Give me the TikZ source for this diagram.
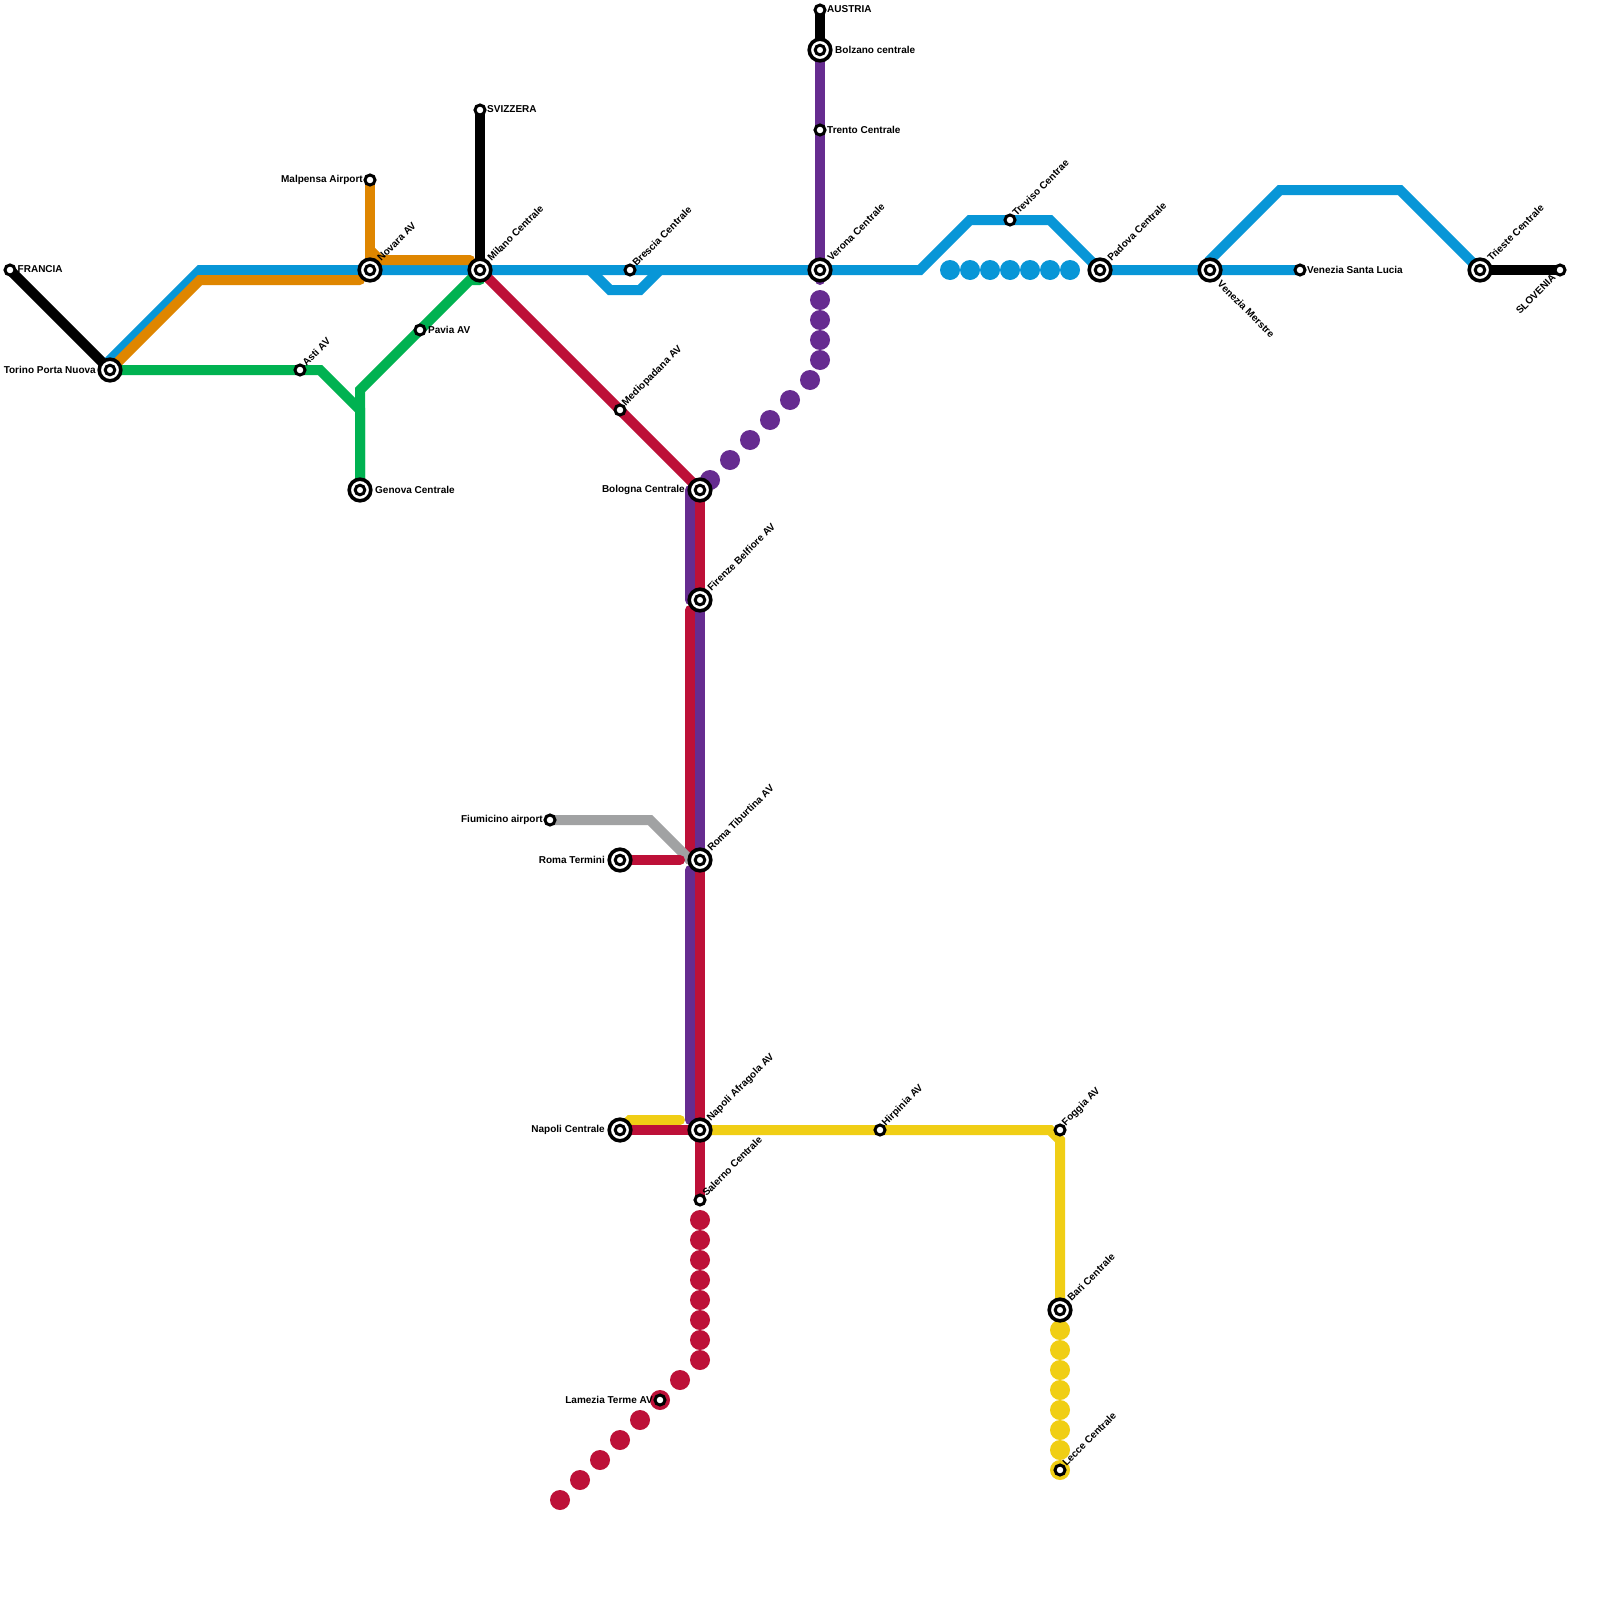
\documentclass[tikz,border=0pt]{standalone}
\usepackage{fontspec}
\setmainfont{Liberation Sans}
\pgfdeclarelayer{lines}
\pgfsetlayers{lines,main}
\definecolor{cblue}{HTML}{0896D7}
\definecolor{cred}{HTML}{BD1038}
\definecolor{cpurple}{HTML}{662C90}
\definecolor{cgreen}{HTML}{00B251}
\definecolor{corange}{HTML}{DF8600}
\definecolor{cyellow}{HTML}{F0CE15}
\definecolor{cgrey}{HTML}{A1A2A3}
\tikzset{
  x=1pt,y=-1pt,
  railline/.style={line width=10pt,line cap=butt,line join=miter},
  roundline/.style={line width=10pt,line cap=round,line join=miter},
  ministop/.style={circle,draw=black,fill=white,line width=3pt,minimum size=10pt,inner sep=0pt,outer sep=0pt},
  hubstop/.style={circle,draw=black,fill=white,line width=3.6pt,minimum size=21.6pt,inner sep=0pt,outer sep=0pt,
    path picture={\draw[black,fill=white,line width=3pt] (path picture bounding box.center) circle (4.8);}},
  beadstop/.style={circle,inner sep=0pt,outer sep=0pt,minimum size=20pt},
  txt/.style={font=\bfseries\fontsize{10pt}{11pt}\selectfont,inner sep=0pt,text=black},
  tr/.style={txt,anchor=west},
  tl/.style={txt,anchor=east},
  tup/.style={txt,anchor=west,rotate=45,xshift=1pt,yshift=1.2pt},
  tdn/.style={txt,anchor=west,rotate=-45,xshift=2.5pt,yshift=-2pt},
  tupend/.style={txt,anchor=east,rotate=45},
}
\begin{document}
\begin{tikzpicture}
\useasboundingbox (0,0) rectangle (1600,1600);

% beads
\foreach \n/\x in {1/950,2/970,3/990,4/1010,5/1030,6/1050,7/1070}
  \node[beadstop,fill=cblue] (bb\n) at (\x,270) {};
\foreach \n/\x/\y in {1/820/300,2/820/320,3/820/340,4/820/360,5/810/380,6/790/400,7/770/420,8/750/440,9/730/460,10/710/480}
  \node[beadstop,fill=cpurple] (pb\n) at (\x,\y) {};
\foreach \n/\x/\y in {1/700/1220,2/700/1240,3/700/1260,4/700/1280,5/700/1300,6/700/1320,7/700/1340,8/700/1360,9/680/1380,10/660/1400,11/640/1420,12/620/1440,13/600/1460,14/580/1480,15/560/1500}
  \node[beadstop,fill=cred] (rb\n) at (\x,\y) {};
\foreach \n/\y in {1/1330,2/1350,3/1370,4/1390,5/1410,6/1430,7/1450,8/1470}
  \node[beadstop,fill=cyellow] (yb\n) at (1060,\y) {};

% stations
\foreach \id/\x/\y in {torino/110/370,novara/370/270,milano/480/270,genova/360/490,verona/820/270,bolzano/820/50,padova/1100/270,mestre/1210/270,trieste/1480/270,bologna/700/490,firenze/700/600,tiburtina/700/860,termini/620/860,afragola/700/1130,napoli/620/1130,bari/1060/1310}
  \node[hubstop] (\id) at (\x,\y) {};
\foreach \id/\x/\y in {francia/10/270,malpensa/370/180,asti/300/370,pavia/420/330,svizzera/480/110,brescia/630/270,mediopadana/620/410,austria/820/10,trento/820/130,treviso/1010/220,santalucia/1300/270,slovenia/1560/270,fiumicino/550/820,salerno/700/1200,lamezia/660/1400,hirpinia/880/1130,foggia/1060/1130,lecce/1060/1470}
  \node[ministop] (\id) at (\x,\y) {};

% lines
\begin{pgfonlayer}{lines}
\fill[white] (0,0) rectangle (1600,1600);
\draw[railline,black] (francia.center) -- (torino.center);
\draw[railline,black] (svizzera.center) -- (milano.center);
\draw[railline,black] (austria.center) -- (bolzano.center);
\draw[railline,black] (trieste.center) -- (slovenia.center);
% blue
\draw[railline,cblue] (torino.center) -- (110,360) -- (200,270) -- (novara.center) -- (milano.center) -- (brescia.center) -- (verona.center) -- (920,270) -- (970,220) -- (treviso.center) -- (1050,220) -- (padova.center) -- (mestre.center) -- (santalucia.center);
\draw[railline,cblue] (590,270) -- (610,290) -- (640,290) -- (660,270);
\draw[railline,cblue] (mestre.center) -- (1210,260) -- (1280,190) -- (1400,190) -- (trieste.center);
% orange
\draw[roundline,corange] (torino.center) -- (200,280) -- (360,280);
\draw[railline,corange] (malpensa.center) -- (novara.center);
\draw[roundline,corange] (370,250) -- (380,260) -- (470,260);
% green
\draw[railline,cgreen] (torino.center) -- (asti.center) -- (320,370) -- (360,410) -- (genova.center);
\draw[roundline,cgreen] (genova.center) -- (360,390) -- (pavia.center) -- (470,280) -- (480,280);
% red and purple
\draw[railline,cred] (milano.center) -- (mediopadana.center) -- (bologna.center);
\draw[railline,cpurple] (bolzano.center) -- (verona.center);
\draw[roundline,cpurple] (verona.center) -- (820,280);
\draw[roundline,cpurple] (690,490) -- (690,600);
\draw[railline,cred] (bologna.center) -- (firenze.center);
\draw[railline,cpurple] (firenze.center) -- (tiburtina.center);
\draw[roundline,cred] (690,610) -- (690,860);
\draw[roundline,cpurple] (690,870) -- (690,1120);
\draw[railline,cred] (tiburtina.center) -- (afragola.center) -- (salerno.center);
\draw[roundline,cgrey] (fiumicino.center) -- (650,820) -- (690,860);
\draw[roundline,cred] (termini.center) -- (680,860);
% yellow
\draw[roundline,cyellow] (napoli.center) -- (630,1120) -- (680,1120);
\draw[railline,cyellow] (afragola.center) -- (hirpinia.center) -- (1050,1130) -- (1060,1140) -- (bari.center);
\draw[railline,cred] (napoli.center) -- (afragola.center);
\end{pgfonlayer}

% labels
\node[tr] (lfrancia) at (17.5,269.5) {FRANCIA};
\node[tl] (lmalpensa) at (363,179.5) {Malpensa Airport};
\node[tl] (ltorino) at (96,369.5) {Torino Porta Nuova};
\node[tr] (lgenova) at (375,489.5) {Genova Centrale};
\node[tr] (lpavia) at (428,329.5) {Pavia AV};
\node[tr] (lsvizzera) at (487,109.5) {SVIZZERA};
\node[tr] (laustria) at (827,9.5) {AUSTRIA};
\node[tr] (lbolzano) at (835,49.5) {Bolzano centrale};
\node[tr] (ltrento) at (827,129.5) {Trento Centrale};
\node[tr] (lsanta) at (1307,269.5) {Venezia Santa Lucia};
\node[tl] (lbologna) at (685,489.5) {Bologna Centrale};
\node[tl] (lfiumicino) at (543,819.5) {Fiumicino airport};
\node[tl] (ltermini) at (605,859.5) {Roma Termini};
\node[tl] (lnapoli) at (605,1129.5) {Napoli Centrale};
\node[tl] (llamezia) at (653,1399.5) {Lamezia Terme AV};
\node[tup] (lnovara) at (379,261) {Novara AV};
\node[tup] (lmilano) at (489,261) {Milano Centrale};
\node[tup] (lasti) at (304,366) {Asti AV};
\node[tup] (lbrescia) at (634,266) {Brescia Centrale};
\node[tup] (lverona) at (829,261) {Verona Centrale};
\node[tup] (ltreviso) at (1014,216) {Treviso Centrae};
\node[tup] (lpadova) at (1109,261) {Padova Centrale};
\node[tdn] (lmestre) at (1219,279) {Venezia Merstre};
\node[tup] (ltrieste) at (1489,261) {Trieste Centrale};
\node[tupend] (lslovenia) at (1554,276) {SLOVENIA};
\node[tup] (lmedio) at (624,406) {Mediopadana AV};
\node[tup] (lfirenze) at (709,591) {Firenze Belfiore AV};
\node[tup] (ltiburtina) at (709,851) {Roma Tiburtina AV};
\node[tup] (lafragola) at (709,1121) {Napoli Afragola AV};
\node[tup] (lsalerno) at (704,1196) {Salerno Centrale};
\node[tup] (lhirpinia) at (884,1126) {Hirpinia AV};
\node[tup] (lfoggia) at (1064,1126) {Foggia AV};
\node[tup] (lbari) at (1069,1301) {Bari Centrale};
\node[tup] (llecce) at (1064,1466) {Lecce Centrale};
\end{tikzpicture}
\end{document}
